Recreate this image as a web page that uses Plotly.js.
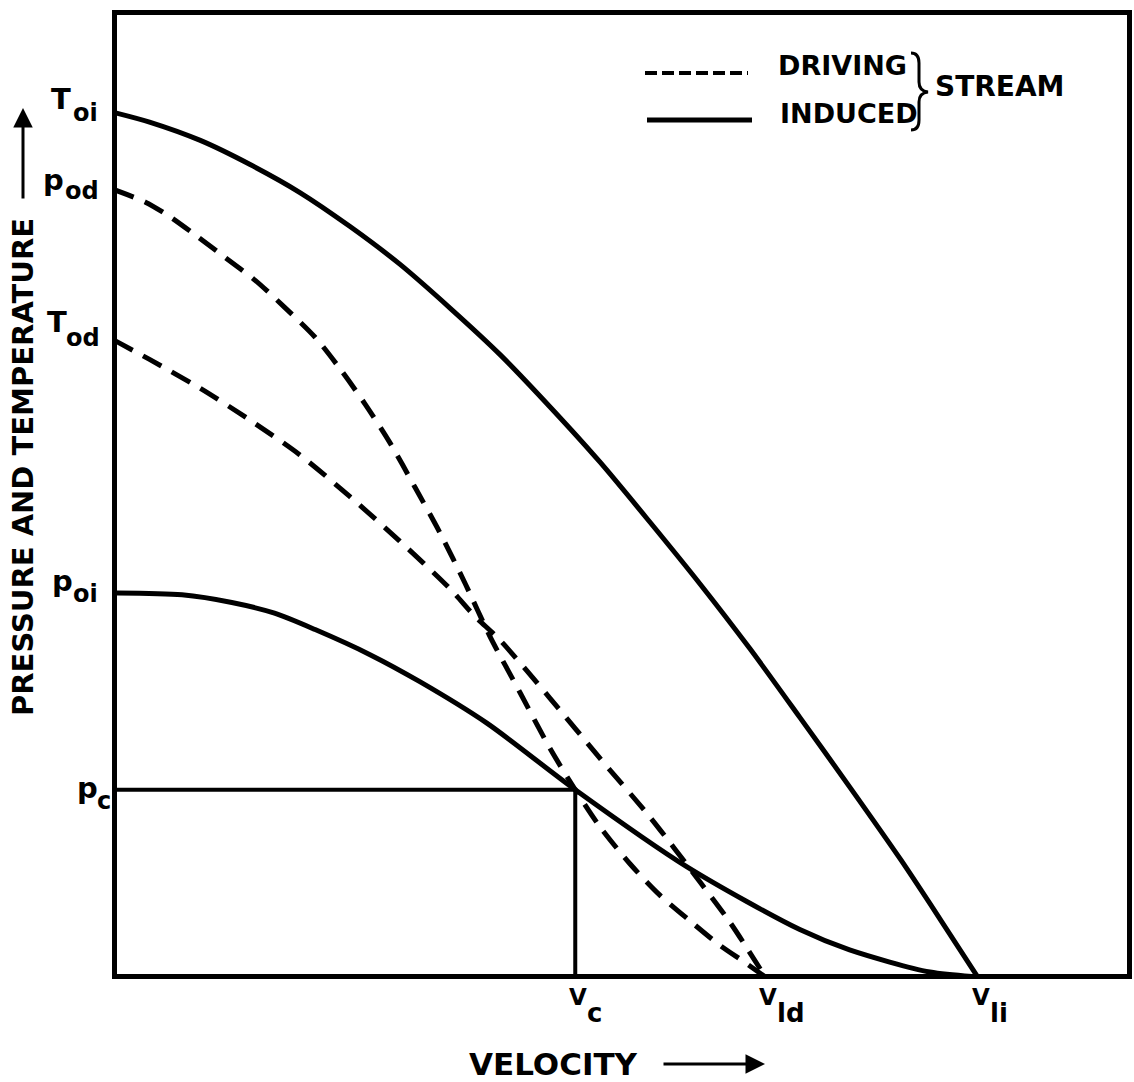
<!DOCTYPE html>
<html>
<head>
<meta charset="utf-8">
<script src="https://cdn.plot.ly/plotly-3.0.1.min.js"></script>
<style>
  html, body { margin: 0; padding: 0; background: #ffffff; }
  #chart { width: 1134px; height: 1082px; }
</style>
</head>
<body>
<div id="chart"></div>
<script>
// ---------------- data (velocity in arbitrary units 0-100, pressure/temperature 0-100) ----------------
const V_c  = 45.4;   // critical velocity
const V_ld = 64.1;   // limiting velocity, driving stream
const V_li = 85.0;   // limiting velocity, induced stream
const P_c  = 19.4;   // critical pressure

// Induced stream total temperature (solid)
const toi_v = [0, 3.5, 8.5, 13.4, 18.3, 23.2, 28.1, 33.1, 38.0, 42.9, 47.8, 52.7, 57.7, 62.6, 67.5, 72.4, 77.4, 81.3, 85.0];
const toi_y = [89.6, 88.6, 86.7, 84.2, 81.3, 77.8, 73.9, 69.3, 64.5, 59.1, 53.4, 47.2, 40.7, 34.0, 26.9, 19.7, 12.2, 6.0, 0];

// Driving stream pressure (dashed)
const pod_v = [0, 3.1, 5.5, 8.0, 10.9, 13.9, 16.8, 19.8, 22.2, 24.7, 27.2, 29.6, 32.1, 34.6, 37.0, 40.0, 42.9, 45.4, 47.8, 50.8, 53.7, 56.7, 59.6, 62.1, 64.1];
const pod_y = [81.6, 80.3, 78.8, 76.9, 74.6, 72.2, 69.4, 66.3, 63.1, 59.4, 55.3, 50.8, 46.0, 40.7, 35.3, 29.4, 23.7, 19.4, 15.6, 11.7, 8.5, 5.8, 3.3, 1.5, 0];

// Driving stream temperature (dashed)
const tod_v = [0, 3.5, 8.5, 13.4, 18.3, 23.2, 28.1, 33.1, 35.5, 38.0, 42.9, 47.8, 52.8, 57.7, 60.6, 64.1];
const tod_y = [66.0, 64.0, 61.0, 57.7, 54.1, 49.8, 45.2, 40.2, 37.4, 34.9, 28.9, 22.7, 16.5, 9.8, 5.7, 0];

// Induced stream pressure (solid)
const poi_v = [0, 6.7, 11.6, 15.8, 19.8, 25.2, 30.1, 36.7, 45.4, 56.4, 67.5, 72.4, 80.3, 85.0];
const poi_y = [39.8, 39.6, 38.8, 37.7, 36.0, 33.4, 30.6, 26.3, 19.4, 11.4, 4.9, 2.8, 0.5, 0];

// tick labels
const yLabels = [
  {main: 'T', sub: 'oi', val: toi_y[0]},
  {main: 'p', sub: 'od', val: pod_y[0]},
  {main: 'T', sub: 'od', val: tod_y[0]},
  {main: 'p', sub: 'oi', val: poi_y[0]},
  {main: 'p', sub: 'c',  val: P_c}
];
const xLabels = [
  {main: 'V', sub: 'c',  val: V_c},
  {main: 'V', sub: 'ld', val: V_ld},
  {main: 'V', sub: 'li', val: V_li}
];
const legendNames = ['DRIVING', 'INDUCED'];
const legendGroup = 'STREAM';
const yTitle = 'PRESSURE AND TEMPERATURE';
const xTitle = 'VELOCITY';

// ---------------- layout helpers ----------------
const W = 1134, H = 1082;
const M = {l: 117, r: 7, t: 15, b: 108};
const PW = W - M.l - M.r, PH = H - M.t - M.b;
const px2x = px => (px - M.l) / PW;
const py2y = py => (H - M.b - py) / PH;

const FONT = 'DejaVu Sans, Liberation Sans, sans-serif';
const f = (size) => ({family: FONT, size: size, color: '#000', weight: 700});

const solid = {color: '#000', width: 5};
const dashed = {color: '#000', width: 5, dash: '21px,12px'};
const smooth = {shape: 'spline', smoothing: 0.8};

const traces = [
  {x: toi_v, y: toi_y, mode: 'lines', line: Object.assign({}, smooth, solid), name: 'T_oi'},
  {x: pod_v, y: pod_y, mode: 'lines', line: Object.assign({}, smooth, dashed), name: 'p_od'},
  {x: tod_v, y: tod_y, mode: 'lines', line: Object.assign({}, smooth, dashed), name: 'T_od'},
  {x: poi_v, y: poi_y, mode: 'lines', line: Object.assign({}, smooth, solid), name: 'p_oi'},
  {x: [0, V_c, V_c], y: [P_c, P_c, 0], mode: 'lines', line: {color: '#000', width: 4}, name: 'p_c'}
];

const annotations = [];

// y-axis labels (main letter + large subscript)
const yCfg = [
  {mainRight: 73,  mainDy: 13, subRight: 100, subDy: -1},
  {mainRight: 66,  mainDy: 10, subRight: 101, subDy: -1},
  {mainRight: 69,  mainDy: 18, subRight: 102, subDy: 2},
  {mainRight: 75,  mainDy: 12, subRight: 100, subDy: -1},
  {mainRight: 100, mainDy: 2,  subRight: 113, subDy: -11}
];
yLabels.forEach((l, i) => {
  const c = yCfg[i];
  annotations.push({xref: 'paper', yref: 'y', x: 0, y: l.val, xanchor: 'right', yanchor: 'middle',
    xshift: c.mainRight - M.l, yshift: c.mainDy, text: l.main, showarrow: false, font: f(29)});
  annotations.push({xref: 'paper', yref: 'y', x: 0, y: l.val, xanchor: 'right', yanchor: 'middle',
    xshift: c.subRight - M.l, yshift: c.subDy, text: l.sub, showarrow: false, font: f(24)});
});

// x-axis labels
xLabels.forEach((l) => {
  annotations.push({xref: 'x', yref: 'paper', x: l.val, y: 0, xanchor: 'left', yanchor: 'middle',
    xshift: -8, yshift: -23, text: l.main, showarrow: false, font: f(23)});
  annotations.push({xref: 'x', yref: 'paper', x: l.val, y: 0, xanchor: 'left', yanchor: 'middle',
    xshift: 10, yshift: -39, text: l.sub, showarrow: false, font: f(26)});
});

// axis titles and arrows
annotations.push({xref: 'paper', yref: 'paper', x: px2x(23), y: py2y(467), xanchor: 'center', yanchor: 'middle',
  text: yTitle, textangle: -90, showarrow: false, font: f(29)});
annotations.push({xref: 'paper', yref: 'paper', x: px2x(23), y: py2y(108), text: '', showarrow: true,
  ax: 0, ay: 92, arrowhead: 2, arrowsize: 1.3, arrowwidth: 3, arrowcolor: '#000'});
annotations.push({xref: 'paper', yref: 'paper', x: px2x(553), y: py2y(1064), xanchor: 'center', yanchor: 'middle',
  text: xTitle, showarrow: false, font: f(31)});
annotations.push({xref: 'paper', yref: 'paper', x: px2x(765), y: py2y(1064), text: '', showarrow: true,
  ax: -103, ay: 0, arrowhead: 2, arrowsize: 1.3, arrowwidth: 3, arrowcolor: '#000'});

// legend text
annotations.push({xref: 'paper', yref: 'paper', x: px2x(776), y: py2y(65), xanchor: 'left', yanchor: 'middle',
  text: legendNames[0], showarrow: false, font: f(27)});
annotations.push({xref: 'paper', yref: 'paper', x: px2x(778), y: py2y(114), xanchor: 'left', yanchor: 'middle',
  text: legendNames[1], showarrow: false, font: f(27)});
annotations.push({xref: 'paper', yref: 'paper', x: px2x(933), y: py2y(86), xanchor: 'left', yanchor: 'middle',
  text: legendGroup, showarrow: false, font: f(28)});

// legend samples and brace
const P = (px, py) => px2x(px).toFixed(5) + ',' + py2y(py).toFixed(5);
const shapes = [
  {type: 'line', xref: 'paper', yref: 'paper', x0: px2x(645), x1: px2x(748), y0: py2y(73), y1: py2y(73),
    line: {color: '#000', width: 4, dash: '12px,5px'}},
  {type: 'line', xref: 'paper', yref: 'paper', x0: px2x(647), x1: px2x(752), y0: py2y(120), y1: py2y(120),
    line: {color: '#000', width: 5}},
  {type: 'path', xref: 'paper', yref: 'paper',
    path: 'M' + P(911, 53) + ' Q' + P(919, 53) + ' ' + P(919, 63) + ' L' + P(919, 82) +
          ' Q' + P(919, 91) + ' ' + P(928, 92) + ' Q' + P(919, 93) + ' ' + P(919, 102) +
          ' L' + P(919, 120) + ' Q' + P(919, 130) + ' ' + P(911, 130),
    line: {color: '#000', width: 3}}
];

const axisBase = {showgrid: false, zeroline: false, showticklabels: false, ticks: '',
  showline: true, mirror: true, linecolor: '#000', linewidth: 5, fixedrange: true};

const layout = {
  width: W, height: H,
  margin: M,
  paper_bgcolor: '#fff', plot_bgcolor: '#fff',
  showlegend: false,
  xaxis: Object.assign({range: [0.3, 99.7]}, axisBase),
  yaxis: Object.assign({range: [0.3, 99.7]}, axisBase),
  annotations: annotations,
  shapes: shapes
};

Plotly.newPlot('chart', traces, layout, {staticPlot: true, displayModeBar: false});
</script>
</body>
</html>
